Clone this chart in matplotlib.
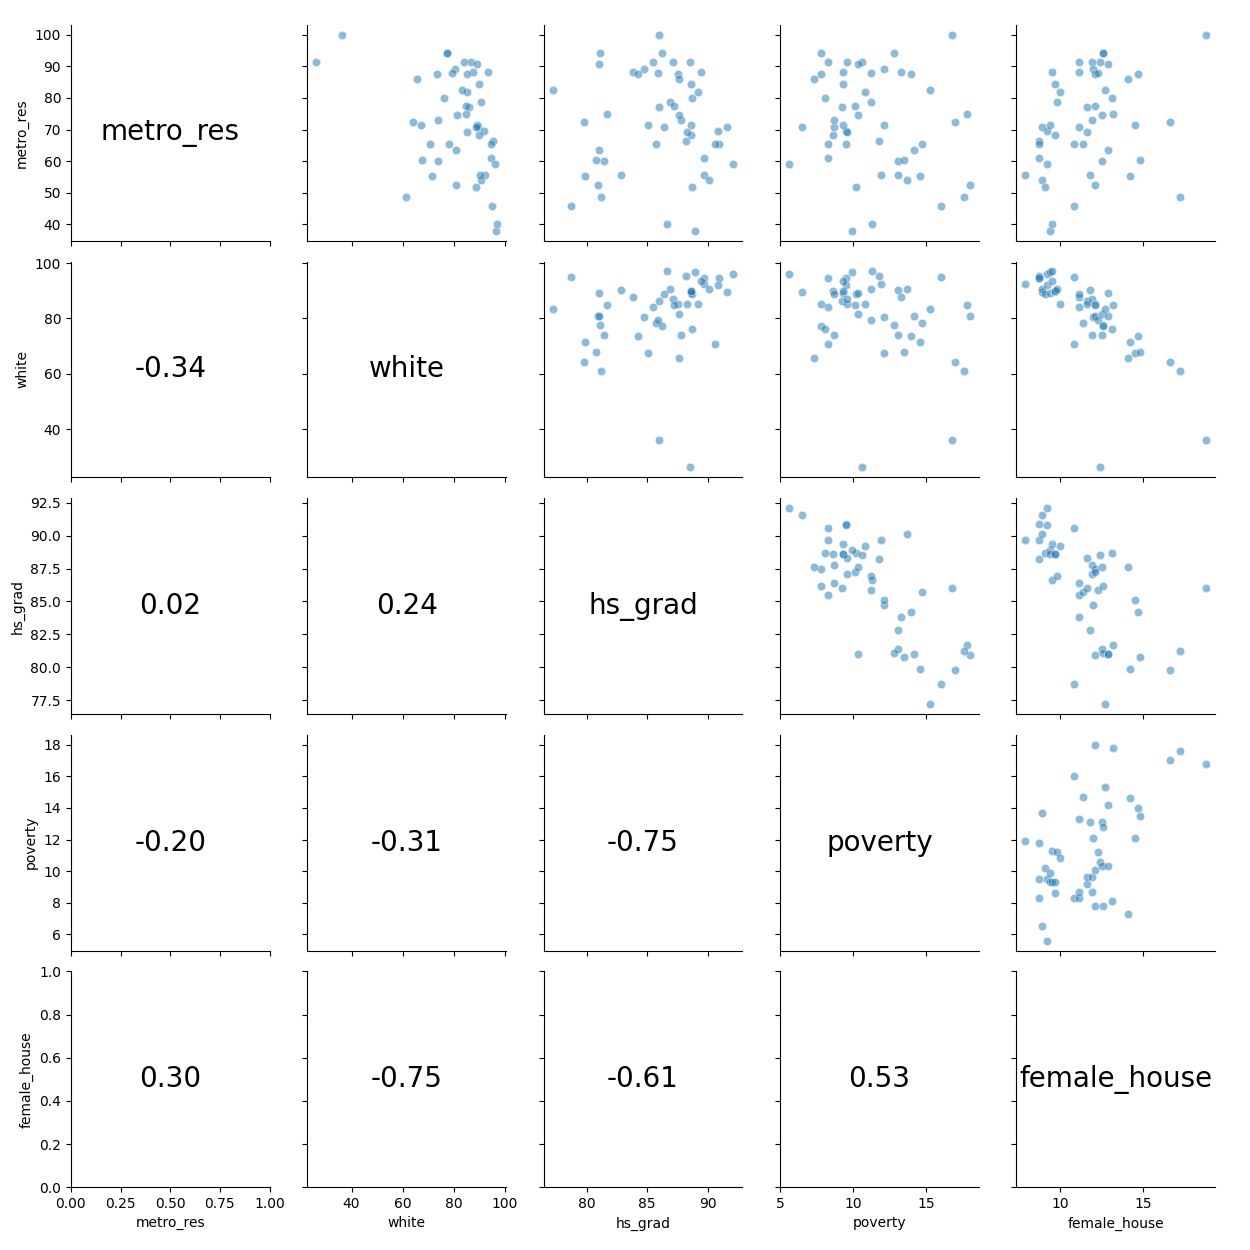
import numpy as np
import pandas as pd
import seaborn as sns
import matplotlib
matplotlib.use("Agg")
from matplotlib import pyplot as plt

# values (51 states)
metro_res = [55.7, 61.1, 66.5, 65.3, 70.8, 54.2, 51.9, 69.7, 59.2, 38.0,
             71.6, 88.2, 40.2, 84.4, 68.3, 78.7, 81.9, 45.9, 65.5, 88.2,
             91.4, 70.8, 65.3, 77.3, 69.3, 55.7, 91.4, 73.1, 89.2, 52.5,
             87.6, 77.5, 87.8, 91.4, 74.6, 60.1, 94.2, 94.2, 82.5, 90.7,
             63.6, 80.0, 74.9, 86.0, 55.4, 71.5, 87.6, 60.4, 72.4, 48.7,
             100.0]
white = [92.4, 94.6, 95.4, 94.6, 89.4, 90.7, 88.8, 92.0, 96.2, 96.6,
         89.1, 93.5, 97.0, 89.9, 89.8, 90.7, 85.3, 94.9, 70.7, 87.7,
         84.1, 88.8, 78.3, 86.2, 85.1, 90.2, 87.0, 73.9, 80.7, 81.0,
         85.1, 84.8, 79.3, 26.2, 81.5, 73.9, 77.5, 77.4, 83.3, 89.1,
         80.8, 76.1, 84.8, 65.6, 71.4, 67.4, 73.6, 67.8, 64.1, 61.2,
         36.2]
hs_grad = [89.7, 89.7, 88.2, 90.9, 91.6, 90.1, 88.7, 90.8, 92.1, 88.9,
           88.6, 89.4, 86.6, 88.6, 88.6, 86.9, 89.2, 78.7, 90.6, 83.8,
           85.5, 86.4, 85.7, 86.0, 88.3, 82.8, 87.1, 87.8, 84.7, 80.9,
           87.5, 87.2, 85.9, 88.5, 87.6, 81.4, 81.1, 86.2, 77.2, 81.0,
           81.0, 88.7, 81.7, 87.6, 79.9, 85.1, 84.2, 80.8, 79.8, 81.2,
           86.0]
poverty = [11.9, 8.3, 11.8, 9.5, 6.5, 13.7, 10.2, 9.5, 5.6, 9.9,
           9.3, 9.3, 11.3, 9.3, 8.6, 11.2, 10.8, 16.0, 8.3, 13.3,
           8.3, 8.7, 14.7, 9.2, 9.6, 13.1, 9.6, 8.7, 12.1, 18.0,
           7.8, 10.1, 11.2, 10.6, 10.3, 13.1, 12.8, 7.8, 15.3, 10.3,
           14.2, 8.1, 17.8, 7.3, 14.6, 12.1, 14.0, 13.5, 17.0, 17.6,
           16.8]
female_house = [7.9, 8.7, 8.7, 8.7, 8.9, 8.9, 9.1, 9.2, 9.2, 9.4,
                9.4, 9.5, 9.5, 9.7, 9.7, 9.8, 10.0, 10.8, 10.8, 11.1,
                11.1, 11.1, 11.4, 11.6, 11.6, 11.8, 11.9, 11.9, 12.0, 12.1,
                12.1, 12.1, 12.3, 12.4, 12.5, 12.5, 12.6, 12.6, 12.7, 12.9,
                12.9, 13.1, 13.2, 14.1, 14.2, 14.5, 14.7, 14.8, 16.6, 17.2,
                18.8]

df = pd.DataFrame({"metro_res": metro_res, "white": white, "hs_grad": hs_grad,
                   "poverty": poverty, "female_house": female_house})


def corrfunc(x, y, **kws):
    r = np.corrcoef(x, y)[0, 1]
    ax = plt.gca()
    ax.annotate(f"{r:.2f}", xy=(0.5, 0.5), xycoords=ax.transAxes,
                ha="center", va="center", fontsize=20)


def diag_label(x, **kws):
    ax = plt.gca()
    ax.annotate(x.name, xy=(0.5, 0.5), xycoords=ax.transAxes,
                ha="center", va="center", fontsize=20)


g = sns.PairGrid(df, height=2.5)
g.map_upper(sns.scatterplot, alpha=0.5)
g.map_diag(diag_label)
g.map_lower(corrfunc)

# plain savefig (no tight bbox) keeps the full 1250x1250 canvas
g.figure.savefig("out.png", dpi=100)
